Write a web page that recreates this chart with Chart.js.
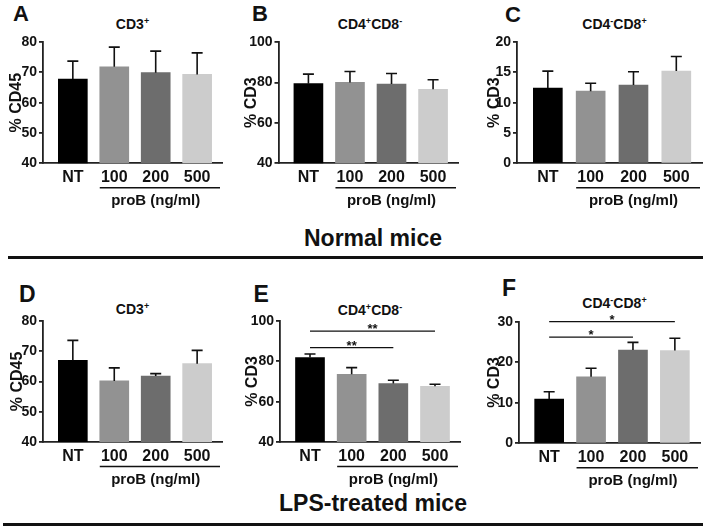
<!DOCTYPE html>
<html>
<head>
<meta charset="utf-8">
<script src="https://cdn.jsdelivr.net/npm/chart.js@4.4.1/dist/chart.umd.min.js"></script>
<style>
  body { margin: 0; background: #fff; }
  #fig { position: relative; width: 709px; height: 531px; overflow: hidden; font-family: "Liberation Sans", Arial, sans-serif; color: #111; }
  #fig canvas, #fig .t { position: absolute; }
  .t { font-weight: bold; white-space: nowrap; }
  .letter { font-size: 22px; line-height: 22px; }
  .letter.big { font-size: 23px; line-height: 23px; }
  .title { font-size: 14px; line-height: 14px; width: 200px; text-align: center; }
  .sup { font-size: 9px; position: relative; top: -5px; }
  .head { font-size: 23px; line-height: 23px; width: 746px; left: 0; text-align: center; }
  .rule { position: absolute; height: 3px; background: #111; }
</style>
</head>
<body>
<div id="fig">
  <div class="t letter" style="left:13px; top:3.1px">A</div>
  <div class="t letter" style="left:252px; top:3.1px">B</div>
  <div class="t letter" style="left:505px; top:4.1px">C</div>
  <div class="t letter big" style="left:19px; top:283.2px">D</div>
  <div class="t letter big" style="left:253.5px; top:283.2px">E</div>
  <div class="t letter big" style="left:502px; top:277.2px">F</div>

  <div class="t title" style="left:32.5px; top:16.5px">CD3<span class="sup">+</span></div>
  <div class="t title" style="left:270px; top:16.5px">CD4<span class="sup">+</span>CD8<span class="sup">-</span></div>
  <div class="t title" style="left:514.5px; top:16.5px">CD4<span class="sup">-</span>CD8<span class="sup">+</span></div>
  <div class="t title" style="left:32.5px; top:301.5px">CD3<span class="sup">+</span></div>
  <div class="t title" style="left:270px; top:303px">CD4<span class="sup">+</span>CD8<span class="sup">-</span></div>
  <div class="t title" style="left:514.5px; top:295.7px">CD4<span class="sup">-</span>CD8<span class="sup">+</span></div>

  <div class="t head" style="top:226.5px">Normal mice</div>
  <div class="rule" style="left:8px; top:256px; width:695px"></div>
  <div class="t head" style="top:491.5px">LPS-treated mice</div>
  <div class="rule" style="left:3px; top:523px; width:700px"></div>
</div>
<script>
const doses = ['NT', '100', '200', '500'];
const doseColors = ['#000000', '#929292', '#6d6d6d', '#cccccc'];

// normal mice (mean, upper error)
const normCD3 = [67.8, 71.8, 69.9, 69.3];
const normCD3Err = [5.9, 6.5, 7.1, 7.1];
const normCD4 = [79.4, 80.0, 79.2, 76.6];
const normCD4Err = [4.7, 5.4, 5.2, 4.7];
const normCD8 = [12.4, 11.9, 12.9, 15.2];
const normCD8Err = [2.8, 1.3, 2.2, 2.4];

// LPS-treated mice
const lpsCD3 = [67.0, 60.2, 61.8, 65.9];
const lpsCD3Err = [6.6, 4.3, 0.8, 4.4];
const lpsCD4 = [81.9, 73.6, 69.0, 67.6];
const lpsCD4Err = [1.7, 3.3, 1.6, 1.0];
const lpsCD8 = [10.9, 16.4, 23.0, 22.9];
const lpsCD8Err = [1.8, 2.1, 1.9, 3.0];

// significance bars: [from, to, level, mark]
const lpsCD4Sig = [[0, 3, 95, '**'], [0, 2, 86.8, '**']];
const lpsCD8Sig = [[0, 3, 30, '*'], [0, 2, 26.2, '*']];

Chart.defaults.font.family = '"Liberation Sans", Arial, sans-serif';

// box = canvas [left, top, width, height], area = plot [left, top, right, bottom] in page px
const panels = [
  { id: 'A', mean: normCD3, err: normCD3Err, sig: [], yTitle: '% CD45', min: 40, max: 80, step: 10,
    box: [0, 0, 235, 215], area: [43, 42, 222, 163.3], titlePad: 7 },
  { id: 'B', mean: normCD4, err: normCD4Err, sig: [], yTitle: '% CD3', min: 40, max: 100, step: 20,
    box: [235, 0, 235, 215], area: [278.5, 42, 458, 163.3], titlePad: 7 },
  { id: 'C', mean: normCD8, err: normCD8Err, sig: [], yTitle: '% CD3', min: 0, max: 20, step: 5,
    box: [470, 0, 239, 215], area: [517, 42, 702, 163.3], titlePad: 15 },
  { id: 'D', mean: lpsCD3, err: lpsCD3Err, sig: [], yTitle: '% CD45', min: 40, max: 80, step: 10,
    box: [0, 270, 235, 222], area: [43, 321, 222, 442], titlePad: 8 },
  { id: 'E', mean: lpsCD4, err: lpsCD4Err, sig: lpsCD4Sig, yTitle: '% CD3', min: 40, max: 100, step: 20,
    box: [235, 270, 235, 222], area: [280, 321, 460, 442], titlePad: 8 },
  { id: 'F', mean: lpsCD8, err: lpsCD8Err, sig: lpsCD8Sig, yTitle: '% CD3', min: 0, max: 30, step: 10,
    box: [470, 270, 239, 222], area: [519, 321.7, 700, 443.3], titlePad: 15 }
];

// error bars, significance bars and the proB bracket
const extras = p => ({
  id: 'extras' + p.id,
  afterDatasetsDraw(chart) {
    const { ctx, chartArea } = chart;
    const x = chart.scales.x, y = chart.scales.y;
    ctx.save();
    ctx.strokeStyle = '#111';
    ctx.fillStyle = '#111';
    ctx.lineWidth = 1.6;
    p.mean.forEach((m, i) => {
      const cx = x.getPixelForValue(i);
      const y0 = y.getPixelForValue(m);
      const y1 = y.getPixelForValue(m + p.err[i]);
      ctx.beginPath();
      ctx.moveTo(cx, y0);
      ctx.lineTo(cx, y1);
      ctx.moveTo(cx - 5.5, y1);
      ctx.lineTo(cx + 5.5, y1);
      ctx.stroke();
    });

    ctx.lineWidth = 1.2;
    ctx.font = 'bold 13px "Liberation Sans", Arial';
    ctx.textAlign = 'center';
    ctx.textBaseline = 'alphabetic';
    p.sig.forEach(([a, b, lvl, mark]) => {
      const xa = x.getPixelForValue(a), xb = x.getPixelForValue(b);
      const ly = y.getPixelForValue(lvl);
      ctx.beginPath();
      ctx.moveTo(xa, ly);
      ctx.lineTo(xb, ly);
      ctx.stroke();
      ctx.fillText(mark, (xa + xb) / 2, ly + 2);
    });

    // underline under the proB doses
    const uy = chartArea.bottom + 24.5;
    ctx.lineWidth = 1.6;
    ctx.beginPath();
    ctx.moveTo(x.getPixelForValue(1) - 14.5, uy);
    ctx.lineTo(chartArea.right - 2, uy);
    ctx.stroke();
    ctx.font = 'bold 15px "Liberation Sans", Arial';
    ctx.fillText('proB (ng/ml)', x.getPixelForValue(2), chartArea.bottom + 41.7);
    ctx.restore();
  }
});

const fig = document.getElementById('fig');
panels.forEach(p => {
  const [bl, bt, bw, bh] = p.box;
  const [L, T, R, B] = p.area;
  const cv = document.createElement('canvas');
  cv.width = bw;
  cv.height = bh;
  cv.style.left = bl + 'px';
  cv.style.top = bt + 'px';
  fig.appendChild(cv);

  new Chart(cv, {
    type: 'bar',
    data: {
      datasets: [{
        data: p.mean.map((v, i) => ({ x: i, y: v })),
        backgroundColor: doseColors,
        barThickness: 29
      }]
    },
    options: {
      responsive: false,
      animation: false,
      layout: { padding: { top: T - bt, right: bl + bw - R, left: 0, bottom: 0 } },
      plugins: { legend: { display: false }, tooltip: { enabled: false } },
      scales: {
        x: {
          type: 'linear',
          offset: false,
          min: -0.72,
          max: 3.6,
          afterBuildTicks: s => { s.ticks = doses.map((d, i) => ({ value: i })); },
          afterFit: s => { s.height = bt + bh - B; },
          grid: { display: false, drawTicks: false },
          border: { color: '#222', width: 1.8 },
          ticks: {
            callback: v => doses[v],
            padding: 5,
            maxRotation: 0,
            autoSkip: false,
            color: '#111',
            font: { size: 16, weight: 'bold' }
          }
        },
        y: {
          min: p.min,
          max: p.max,
          afterFit: s => { s.width = L - bl; },
          ticks: { stepSize: p.step, padding: 2, color: '#111', font: { size: 14, weight: 'bold' } },
          grid: { drawOnChartArea: false, tickLength: 4, color: '#222', lineWidth: 1.8 },
          border: { color: '#222', width: 1.8 },
          title: {
            display: true,
            text: p.yTitle,
            color: '#111',
            font: { size: 16, weight: 'bold' },
            padding: { top: p.titlePad, bottom: 0 }
          }
        }
      }
    },
    plugins: [extras(p)]
  });
});
</script>
</body>
</html>
